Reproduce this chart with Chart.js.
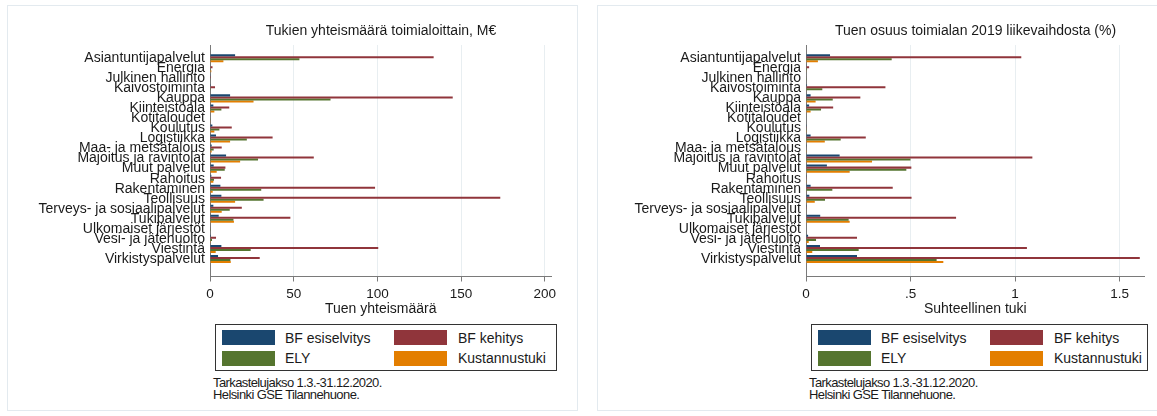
<!DOCTYPE html>
<html lang="fi">
<head>
<meta charset="utf-8">
<title>Tuet toimialoittain</title>
<script src="https://cdn.jsdelivr.net/npm/chart.js@4.4.1/dist/chart.umd.min.js"></script>
<style>
  body { margin: 0; width: 1157px; height: 416px; position: relative; overflow: hidden; background: #fff;
         font-family: 'Liberation Sans', Arial, sans-serif; color: #1a1a1a; }
  .frame { position: absolute; top: 5px; height: 404px; border: 1px solid #e3eaef; }
  canvas { position: absolute; top: 0; }
  .title { position: absolute; top: 22px; font-size: 14px; line-height: 16px; text-align: center; white-space: nowrap; }
  .legend { position: absolute; top: 324px; height: 45px; border: 1px solid #333; }
  .legend .sw { position: absolute; width: 53px; height: 15px; }
  .legend .lb { position: absolute; font-size: 14px; line-height: 16px; white-space: nowrap; }
  .note { position: absolute; top: 377px; font-size: 13px; line-height: 12px; letter-spacing: -0.6px; white-space: nowrap; }
</style>
</head>
<body>
<div class="frame" style="left:7px; width:569px;"></div>
<div class="frame" style="left:597px; width:570px;"></div>

<canvas id="totalChart" width="580" height="320" style="left:0;"></canvas>
<canvas id="shareChart" width="567" height="320" style="left:590px;"></canvas>

<div class="title" style="left:210px; width:342px;">Tukien yhteismäärä toimialoittain, M€</div>
<div class="title" style="left:806px; width:339px;">Tuen osuus toimialan 2019 liikevaihdosta (%)</div>

<div class="legend" id="legendTotal" style="left:215px; width:340px;"></div>
<div class="legend" id="legendShare" style="left:811px; width:335px;"></div>

<div class="note" style="left:213px;">Tarkastelujakso 1.3.-31.12.2020.<br>Helsinki GSE Tilannehuone.</div>
<div class="note" style="left:809px;">Tarkastelujakso 1.3.-31.12.2020.<br>Helsinki GSE Tilannehuone.</div>

<script>
const categories = [
  'Asiantuntijapalvelut', 'Energia', 'Julkinen hallinto', 'Kaivostoiminta', 'Kauppa',
  'Kiinteistöala', 'Kotitaloudet', 'Koulutus', 'Logistiikka', 'Maa- ja metsätalous',
  'Majoitus ja ravintolat', 'Muut palvelut', 'Rahoitus', 'Rakentaminen', 'Teollisuus',
  'Terveys- ja sosiaalipalvelut', 'Tukipalvelut', 'Ulkomaiset järjestöt', 'Vesi- ja jätehuolto',
  'Viestintä', 'Virkistyspalvelut'
];

const seriesNames = ['BF esiselvitys', 'BF kehitys', 'ELY', 'Kustannustuki'];
const seriesColors = ['#1a476f', '#90353b', '#55752f', '#e37e00'];

// Tukien yhteismäärä, M€
const totalEsiselvitys = [15, 0.3, 0.2, 0.5, 12, 2, 0, 1.4, 3.6, 1, 9.6, 2.2, 0.8, 6.2, 6.8, 2, 5.2, 0, 0.6, 6.8, 4.8];
const totalKehitys = [133.6, 1.5, 0.6, 3, 145, 11.5, 0.3, 13, 37.4, 7, 62, 9.2, 6.6, 98.6, 173.4, 19, 48, 0.2, 3.6, 100.5, 29.7];
const totalEly = [53.4, 0.5, 0.4, 0.5, 72, 6.8, 0.2, 5.6, 22, 2.2, 28.7, 8.8, 2.4, 30.6, 32, 11.8, 14, 0.1, 1.2, 24.3, 12.2];
const totalKustannus = [8, 0.8, 0.3, 0.3, 26, 2.6, 0.2, 2.6, 12, 1, 18, 4, 2, 1.6, 15, 7, 14.3, 0, 0.5, 3.4, 12.4];

// Tuen osuus liikevaihdosta, %
const shareEsiselvitys = [0.115, 0.003, 0, 0.005, 0.022, 0.015, 0, 0.001, 0.022, 0.001, 0.161, 0.1, 0.001, 0.022, 0.016, 0.001, 0.068, 0, 0.01, 0.067, 0.244];
const shareKehitys = [1.03, 0.015, 0.002, 0.38, 0.26, 0.13, 0, 0.001, 0.286, 0.003, 1.083, 0.504, 0.004, 0.415, 0.505, 0.004, 0.718, 0, 0.244, 1.057, 1.597];
const shareEly = [0.41, 0.005, 0.001, 0.078, 0.128, 0.072, 0, 0.001, 0.166, 0.002, 0.5, 0.48, 0.002, 0.126, 0.091, 0.003, 0.204, 0, 0.048, 0.252, 0.625];
const shareKustannus = [0.057, 0.003, 0, 0.002, 0.046, 0.022, 0, 0.001, 0.09, 0.001, 0.316, 0.209, 0.001, 0.003, 0.042, 0.002, 0.209, 0, 0.013, 0.03, 0.657];

const totalTicks = [0, 50, 100, 150, 200];
const totalTickLabels = ['0', '50', '100', '150', '200'];
const shareTicks = [0, 0.5, 1, 1.5];
const shareTickLabels = ['0', '.5', '1', '1.5'];

const fontFamily = "'Liberation Sans', Arial, sans-serif";
const textColor = '#1a1a1a';
const axisColor = '#7a7a7a';

function makePanel(id, series, cfg) {
  return new Chart(document.getElementById(id), {
    type: 'bar',
    data: {
      datasets: series.map((vals, k) => ({
        label: seriesNames[k],
        data: vals.map((v, i) => ({ x: v, y: i })),
        backgroundColor: seriesColors[k],
        borderWidth: 0,
        categoryPercentage: 0.8,
        barPercentage: 1
      }))
    },
    options: {
      indexAxis: 'y',
      responsive: false,
      animation: false,
      layout: { padding: { top: 45, right: cfg.padRight, left: 0, bottom: 0 } },
      plugins: { legend: { display: false }, tooltip: { enabled: false } },
      scales: {
        y: {
          type: 'linear',
          reverse: true,
          offset: false,
          min: -1.32,
          max: 21.75,
          grid: { display: false, drawTicks: false, offset: false },
          border: { color: axisColor },
          afterBuildTicks: s => { s.ticks = categories.map((c, i) => ({ value: i })); },
          afterFit: s => { s.width = cfg.axisWidth; },
          ticks: {
            autoSkip: false, padding: 5, color: textColor,
            font: { size: 14, family: fontFamily },
            callback: v => categories[v]
          }
        },
        x: {
          type: 'linear',
          min: 0,
          max: cfg.max,
          grid: { color: '#e8eef1', tickColor: axisColor, tickLength: 5 },
          border: { color: axisColor },
          afterBuildTicks: s => { s.ticks = cfg.ticks.map(v => ({ value: v })); },
          afterFit: s => { s.height = 43.5; },
          ticks: {
            autoSkip: false, maxRotation: 0, padding: 5, color: textColor,
            font: { size: 13.5, family: fontFamily },
            callback: v => cfg.tickLabels[cfg.ticks.indexOf(v)]
          },
          title: {
            display: true, text: cfg.title, color: textColor,
            font: { size: 14, family: fontFamily },
            padding: { top: 0, bottom: 2 }
          }
        }
      }
    }
  });
}

makePanel('totalChart', [totalEsiselvitys, totalKehitys, totalEly, totalKustannus], {
  max: 204, axisWidth: 210, padRight: 28.5,
  ticks: totalTicks, tickLabels: totalTickLabels, title: 'Tuen yhteismäärä'
});

makePanel('shareChart', [shareEsiselvitys, shareKehitys, shareEly, shareKustannus], {
  max: 1.62, axisWidth: 216, padRight: 12.4,
  ticks: shareTicks, tickLabels: shareTickLabels, title: 'Suhteellinen tuki'
});

// legend boxes, two columns
const legendCols = [[6, 69], [178, 242]];
['legendTotal', 'legendShare'].forEach(id => {
  const box = document.getElementById(id);
  seriesNames.forEach((name, k) => {
    const col = legendCols[k % 2];
    const row = Math.floor(k / 2);
    const sw = document.createElement('span');
    sw.className = 'sw';
    sw.style.left = col[0] + 'px';
    sw.style.top = (5 + row * 20.5) + 'px';
    sw.style.background = seriesColors[k];
    const lb = document.createElement('span');
    lb.className = 'lb';
    lb.style.left = col[1] + 'px';
    lb.style.top = (4.5 + row * 20.5) + 'px';
    lb.textContent = name;
    box.appendChild(sw);
    box.appendChild(lb);
  });
});
</script>
</body>
</html>
